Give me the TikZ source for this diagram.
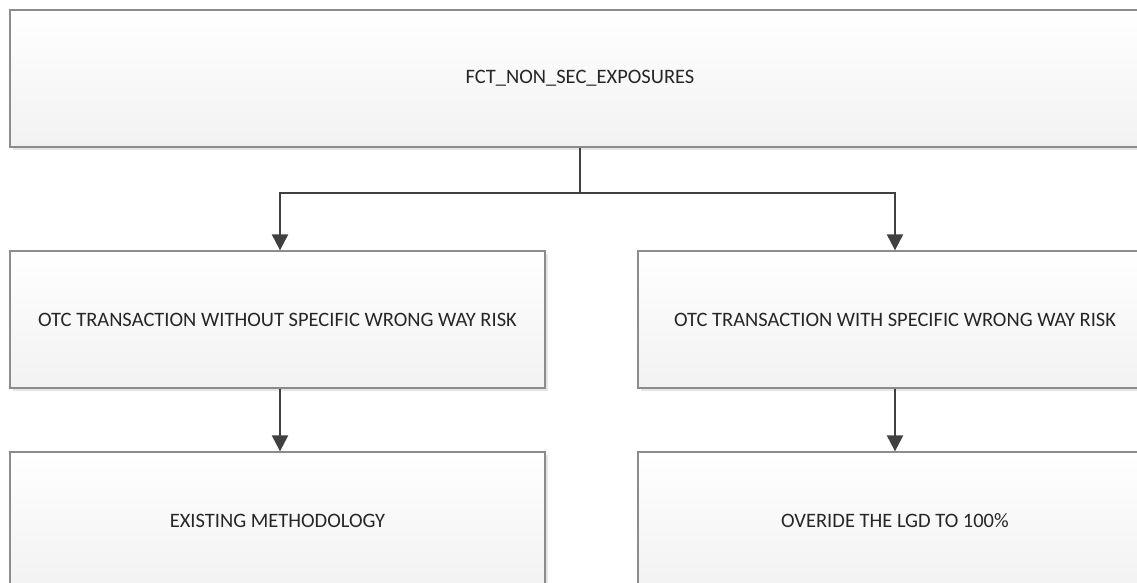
\documentclass[tikz,border=0pt]{standalone}
\usepackage{fontspec}
\setmainfont{Carlito}
\usetikzlibrary{positioning,arrows.meta,shadows}
\definecolor{BoxEdge}{HTML}{8C8C8C}
\definecolor{BoxTop}{HTML}{FFFFFF}
\definecolor{BoxBottom}{HTML}{F2F2F2}
\definecolor{LinkGray}{HTML}{404040}
\tikzset{
  stagebox/.style={draw=BoxEdge,line width=1.3pt,top color=BoxTop,bottom color=BoxBottom,
    minimum height=137pt,inner sep=0pt,align=center,
    font=\fontsize{20.5}{24}\selectfont\color{black!85},
    drop shadow={shadow xshift=3pt,shadow yshift=-3pt,fill=black!20,opacity=0.5}},
  widebox/.style={stagebox,minimum width=1140pt},
  halfbox/.style={stagebox,minimum width=535pt},
  rightbox/.style={stagebox,minimum width=514pt},
  link/.style={draw=LinkGray,line width=2.2pt,-{Triangle[length=16pt,width=16pt]}},
  trunk/.style={draw=LinkGray,line width=2.2pt},
}
\begin{document}
\begin{tikzpicture}[x=1pt,y=-1pt]
  \useasboundingbox (0,0) rectangle (1137,583);
  \clip (0,0) rectangle (1137,583);
  \node[widebox] (src) at (580,78.5) {FCT\_NON\_SEC\_EXPOSURES};
  \node[halfbox] (otcA) at (277.5,319.5) {OTC TRANSACTION WITHOUT SPECIFIC WRONG WAY RISK};
  \node[rightbox] (otcB) at (895,319.5) {OTC TRANSACTION WITH SPECIFIC WRONG WAY RISK};
  \node[halfbox] (method) at (277.5,520.5) {EXISTING METHODOLOGY};
  \node[rightbox] (lgd) at (895,520.5) {OVERIDE THE LGD TO 100\%};
  \coordinate (split) at (580,193);
  \draw[trunk] (src.south) -- (split);
  \draw[link] (split) -| (otcA.north -| 280,0);
  \draw[link] (split) -| (otcB.north);
  \draw[link] (otcA.south -| 280,0) -- (method.north -| 280,0);
  \draw[link] (otcB.south) -- (lgd.north);
\end{tikzpicture}
\end{document}
